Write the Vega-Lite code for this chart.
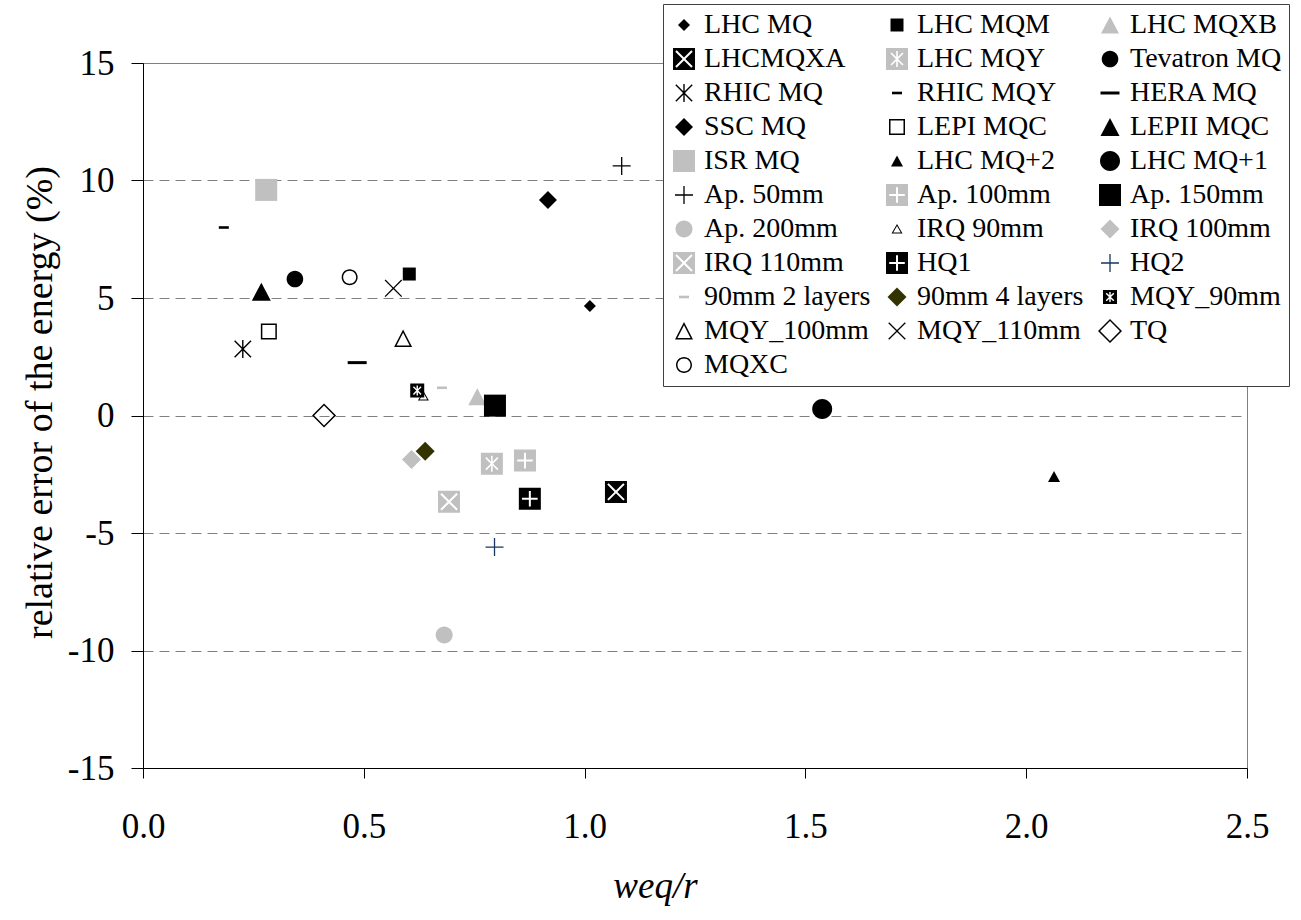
{
  "$schema": "https://vega.github.io/schema/vega-lite/v6.json",
  "width": 1104,
  "height": 705,
  "autosize": {"type": "none"},
  "padding": {"left": 143, "top": 63, "right": 54, "bottom": 152},
  "background": "white",
  "config": {
    "font": "Liberation Serif",
    "view": {"stroke": "#808080", "strokeWidth": 1}
  },
  "data": {
    "values": [
      {"magnet": "LHC MQ", "weq_r": 1.012, "rel_error": 4.66},
      {"magnet": "LHC MQM", "weq_r": 0.603, "rel_error": 6.02},
      {"magnet": "LHC MQXB", "weq_r": 0.757, "rel_error": 0.8},
      {"magnet": "LHCMQXA", "weq_r": 1.071, "rel_error": -3.25},
      {"magnet": "LHC MQY", "weq_r": 0.79, "rel_error": -2.05},
      {"magnet": "Tevatron MQ", "weq_r": 0.344, "rel_error": 5.81},
      {"magnet": "RHIC MQ", "weq_r": 0.226, "rel_error": 2.83},
      {"magnet": "RHIC MQY", "weq_r": 0.183, "rel_error": 8.0},
      {"magnet": "HERA MQ", "weq_r": 0.485, "rel_error": 2.25},
      {"magnet": "SSC MQ", "weq_r": 0.917, "rel_error": 9.17},
      {"magnet": "LEPI MQC", "weq_r": 0.285, "rel_error": 3.57},
      {"magnet": "LEPII MQC", "weq_r": 0.268, "rel_error": 5.27},
      {"magnet": "ISR MQ", "weq_r": 0.279, "rel_error": 9.6},
      {"magnet": "LHC MQ+2", "weq_r": 2.063, "rel_error": -2.6},
      {"magnet": "LHC MQ+1", "weq_r": 1.538, "rel_error": 0.28},
      {"magnet": "Ap. 50mm", "weq_r": 1.084, "rel_error": 10.62},
      {"magnet": "Ap. 100mm", "weq_r": 0.865, "rel_error": -1.92},
      {"magnet": "Ap. 150mm", "weq_r": 0.797, "rel_error": 0.42},
      {"magnet": "Ap. 200mm", "weq_r": 0.682, "rel_error": -9.34},
      {"magnet": "IRQ 90mm", "weq_r": 0.635, "rel_error": 0.83},
      {"magnet": "IRQ 100mm", "weq_r": 0.608, "rel_error": -1.87},
      {"magnet": "IRQ 110mm", "weq_r": 0.693, "rel_error": -3.67},
      {"magnet": "HQ1", "weq_r": 0.876, "rel_error": -3.54},
      {"magnet": "HQ2", "weq_r": 0.796, "rel_error": -5.6},
      {"magnet": "90mm 2 layers", "weq_r": 0.677, "rel_error": 1.18},
      {"magnet": "90mm 4 layers", "weq_r": 0.639, "rel_error": -1.52},
      {"magnet": "MQY_90mm", "weq_r": 0.621, "rel_error": 1.06},
      {"magnet": "MQY_100mm", "weq_r": 0.589, "rel_error": 3.28},
      {"magnet": "MQY_110mm", "weq_r": 0.567, "rel_error": 5.41},
      {"magnet": "TQ", "weq_r": 0.41, "rel_error": 0.0},
      {"magnet": "MQXC", "weq_r": 0.468, "rel_error": 5.88}
    ]
  },
  "mark": {"type": "point", "filled": true, "size": 400, "opacity": 1, "strokeWidth": 0},
  "encoding": {
    "x": {
      "field": "weq_r",
      "type": "quantitative",
      "scale": {"domain": [0, 2.5], "nice": false, "zero": false},
      "axis": {
        "title": "weq/r",
        "titleFont": "Liberation Serif",
        "titleFontStyle": "italic",
        "titleFontWeight": "normal",
        "titleFontSize": 37,
        "titleColor": "black",
        "titlePadding": 24,
        "titleX": 512,
        "values": [0, 0.5, 1, 1.5, 2, 2.5],
        "labelExpr": "format(datum.value, '.1f')",
        "labelFont": "Liberation Serif",
        "labelFontSize": 35,
        "labelColor": "black",
        "labelPadding": 31,
        "labelFlush": false,
        "labelOverlap": false,
        "tickSize": 10,
        "tickColor": "black",
        "domainColor": "black",
        "grid": false
      }
    },
    "y": {
      "field": "rel_error",
      "type": "quantitative",
      "scale": {"domain": [-15, 15], "nice": false, "zero": false},
      "axis": {
        "title": "relative error of the energy (%)",
        "titleFont": "Liberation Serif",
        "titleFontWeight": "normal",
        "titleFontSize": 38,
        "titleColor": "black",
        "titlePadding": 8,
        "titleY": 339,
        "values": [-15, -10, -5, 0, 5, 10, 15],
        "labelExpr": "'' + datum.value",
        "labelFont": "Liberation Serif",
        "labelFontSize": 35,
        "labelColor": "black",
        "labelPadding": 17,
        "labelFlush": false,
        "labelOverlap": false,
        "tickSize": 12,
        "tickColor": "black",
        "domainColor": "black",
        "grid": true,
        "gridColor": "#808080",
        "gridDash": [10, 6],
        "gridWidth": 1
      }
    },
    "color": {
      "field": "magnet",
      "type": "nominal",
      "scale": {
        "domain": ["LHC MQ", "LHC MQM", "LHC MQXB", "LHCMQXA", "LHC MQY", "Tevatron MQ", "RHIC MQ", "RHIC MQY", "HERA MQ", "SSC MQ", "LEPI MQC", "LEPII MQC", "ISR MQ", "LHC MQ+2", "LHC MQ+1", "Ap. 50mm", "Ap. 100mm", "Ap. 150mm", "Ap. 200mm", "IRQ 90mm", "IRQ 100mm", "IRQ 110mm", "HQ1", "HQ2", "90mm 2 layers", "90mm 4 layers", "MQY_90mm", "MQY_100mm", "MQY_110mm", "TQ", "MQXC"],
        "range": ["#000000", "#000000", "#c0c0c0", "#000000", "#c0c0c0", "#000000", "#000000", "#000000", "#000000", "#000000", "#000000", "#000000", "#c0c0c0", "#000000", "#000000", "#000000", "#c0c0c0", "#000000", "#c0c0c0", "#000000", "#c0c0c0", "#c0c0c0", "#000000", "#17375e", "#c0c0c0", "#333300", "#000000", "#000000", "#000000", "#000000", "#000000"]
      },
      "legend": {
        "title": null,
        "orient": "none",
        "direction": "horizontal",
        "legendX": 520,
        "legendY": -59,
        "columns": 3,
        "padding": 7,
        "strokeColor": "#404040",
        "fillColor": "white",
        "labelFont": "Liberation Serif",
        "labelFontSize": 28,
        "labelColor": "black",
        "labelOffset": 6,
        "labelLimit": 400,
        "rowPadding": 6,
        "columnPadding": 12,
        "symbolSize": 400,
        "symbolStrokeWidth": 0,
        "symbolLimit": 40
      }
    },
    "shape": {
      "field": "magnet",
      "type": "nominal",
      "scale": {
        "domain": ["LHC MQ", "LHC MQM", "LHC MQXB", "LHCMQXA", "LHC MQY", "Tevatron MQ", "RHIC MQ", "RHIC MQY", "HERA MQ", "SSC MQ", "LEPI MQC", "LEPII MQC", "ISR MQ", "LHC MQ+2", "LHC MQ+1", "Ap. 50mm", "Ap. 100mm", "Ap. 150mm", "Ap. 200mm", "IRQ 90mm", "IRQ 100mm", "IRQ 110mm", "HQ1", "HQ2", "90mm 2 layers", "90mm 4 layers", "MQY_90mm", "MQY_100mm", "MQY_110mm", "TQ", "MQXC"],
        "range": [
          "M0,-0.6L0.6,0L0,0.6L-0.6,0Z",
          "M-0.65,-0.65H0.65V0.65H-0.65Z",
          "M0,-0.85L0.9,0.85L-0.9,0.85Z",
          "M-1.1,-1.1H1.1V1.1H-1.1ZM0,-0.141L-0.729,-0.871L-0.871,-0.729L-0.141,0L-0.871,0.729L-0.729,0.871L0,0.141L0.729,0.871L0.871,0.729L0.141,0L0.871,-0.729L0.729,-0.871Z",
          "M-1.1,-1.1H1.1V1.1H-1.1ZM-0.08,-0.193L-0.543,-0.657L-0.657,-0.543L-0.113,0L-0.657,0.543L-0.543,0.657L-0.08,0.193L-0.08,0.8L0.08,0.8L0.08,0.193L0.543,0.657L0.657,0.543L0.113,0L0.657,-0.543L0.543,-0.657L0.08,-0.193L0.08,-0.8L-0.08,-0.8Z",
          "M0.83,0A0.83,0.83,0,1,1,-0.83,0A0.83,0.83,0,1,1,0.83,0Z",
          "M-0.07,-0.9L0.07,-0.9L0.07,-0.169L0.77,-0.87L0.87,-0.77L0.099,0L0.87,0.77L0.77,0.87L0.07,0.169L0.07,0.9L-0.07,0.9L-0.07,0.169L-0.77,0.87L-0.87,0.77L-0.099,0L-0.87,-0.77L-0.77,-0.87L-0.07,-0.169Z",
          "M-0.5,-0.13H0.5V0.13H-0.5Z",
          "M-0.95,-0.15H0.95V0.15H-0.95Z",
          "M0,-0.9L0.9,0L0,0.9L-0.9,0Z",
          "M-0.8,-0.8H0.8V0.8H-0.8ZM-0.65,-0.65V0.65H0.65V-0.65Z",
          "M0,-0.9L0.95,0.9L-0.95,0.9Z",
          "M-1.1,-1.1H1.1V1.1H-1.1Z",
          "M0,-0.55L0.6,0.55L-0.6,0.55Z",
          "M1,0A1,1,0,1,1,-1,0A1,1,0,1,1,1,0Z",
          "M-0.065,-0.9L0.065,-0.9L0.065,-0.065L0.9,-0.065L0.9,0.065L0.065,0.065L0.065,0.9L-0.065,0.9L-0.065,0.065L-0.9,0.065L-0.9,-0.065L-0.065,-0.065Z",
          "M-1.1,-1.1H1.1V1.1H-1.1ZM-0.1,-0.78L-0.1,-0.1L-0.78,-0.1L-0.78,0.1L-0.1,0.1L-0.1,0.78L0.1,0.78L0.1,0.1L0.78,0.1L0.78,-0.1L0.1,-0.1L0.1,-0.78Z",
          "M-1.1,-1.1H1.1V1.1H-1.1Z",
          "M0.85,0A0.85,0.85,0,1,1,-0.85,0A0.85,0.85,0,1,1,0.85,0Z",
          "M0,-0.5L0.55,0.45L-0.55,0.45ZM0,-0.3L-0.377,0.35L0.377,0.35Z",
          "M0,-0.95L0.95,0L0,0.95L-0.95,0Z",
          "M-1.1,-1.1H1.1V1.1H-1.1ZM0,-0.141L-0.729,-0.871L-0.871,-0.729L-0.141,0L-0.871,0.729L-0.729,0.871L0,0.141L0.729,0.871L0.871,0.729L0.141,0L0.871,-0.729L0.729,-0.871Z",
          "M-1.1,-1.1H1.1V1.1H-1.1ZM-0.1,-0.78L-0.1,-0.1L-0.78,-0.1L-0.78,0.1L-0.1,0.1L-0.1,0.78L0.1,0.78L0.1,0.1L0.78,0.1L0.78,-0.1L0.1,-0.1L0.1,-0.78Z",
          "M-0.065,-0.9L0.065,-0.9L0.065,-0.065L0.9,-0.065L0.9,0.065L0.065,0.065L0.065,0.9L-0.065,0.9L-0.065,0.065L-0.9,0.065L-0.9,-0.065L-0.065,-0.065Z",
          "M-0.5,-0.13H0.5V0.13H-0.5Z",
          "M0,-0.95L0.95,0L0,0.95L-0.95,0Z",
          "M-0.7,-0.7H0.7V0.7H-0.7ZM-0.07,-0.169L-0.331,-0.43L-0.43,-0.331L-0.099,0L-0.43,0.331L-0.331,0.43L-0.07,0.169L-0.07,0.5L0.07,0.5L0.07,0.169L0.331,0.43L0.43,0.331L0.099,0L0.43,-0.331L0.331,-0.43L0.07,-0.169L0.07,-0.5L-0.07,-0.5Z",
          "M0,-0.9L0.9,0.85L-0.9,0.85ZM0,-0.572L-0.654,0.7L0.654,0.7Z",
          "M0,-0.092L0.784,-0.876L0.876,-0.784L0.092,0L0.876,0.784L0.784,0.876L0,0.092L-0.784,0.876L-0.876,0.784L-0.092,0L-0.876,-0.784L-0.784,-0.876Z",
          "M0,-1.2L1.2,0L0,1.2L-1.2,0ZM0,-0.99L-0.99,0L0,0.99L0.99,0Z",
          "M0.8,0A0.8,0.8,0,1,1,-0.8,0A0.8,0.8,0,1,1,0.8,0ZM0.65,0A0.65,0.65,0,1,0,-0.65,0A0.65,0.65,0,1,0,0.65,0Z"
        ]
      },
      "legend": {
        "title": null,
        "orient": "none",
        "direction": "horizontal",
        "legendX": 520,
        "legendY": -59,
        "columns": 3,
        "padding": 7,
        "strokeColor": "#404040",
        "fillColor": "white",
        "labelFont": "Liberation Serif",
        "labelFontSize": 28,
        "labelColor": "black",
        "labelOffset": 6,
        "labelLimit": 400,
        "rowPadding": 6,
        "columnPadding": 12,
        "symbolSize": 400,
        "symbolStrokeWidth": 0,
        "symbolLimit": 40
      }
    }
  }
}
